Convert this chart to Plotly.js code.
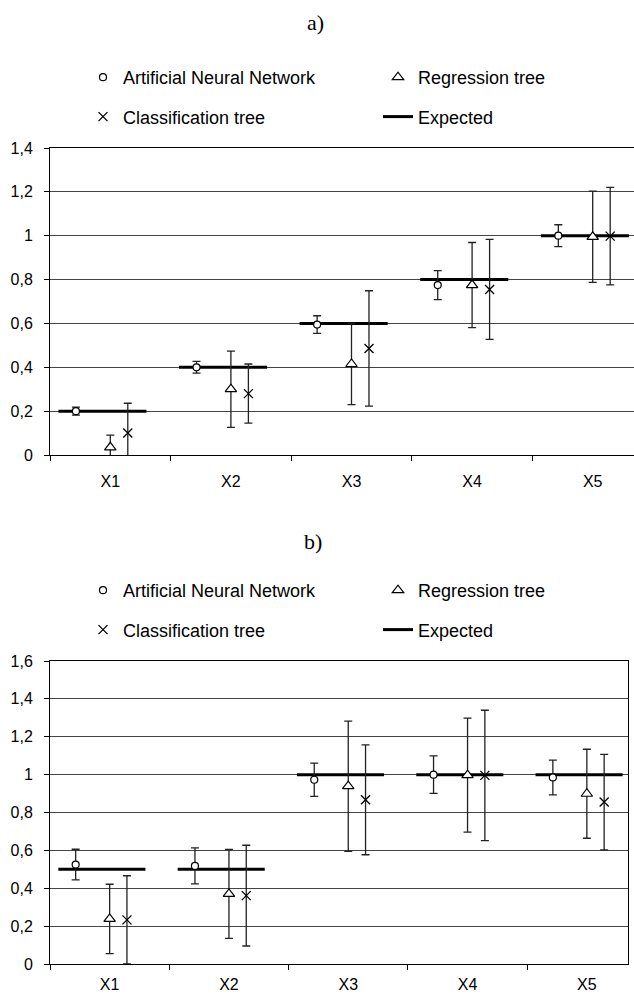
<!DOCTYPE html>
<html>
<head>
<meta charset="utf-8">
<script src="https://cdn.plot.ly/plotly-3.0.1.min.js"></script>
<style>html,body{margin:0;padding:0;background:#fff;}#chart{width:634px;height:996px;}</style>
</head>
<body>
<div id="chart"></div>
<script>
// ---- data ----
const categories = ['X1', 'X2', 'X3', 'X4', 'X5'];
const seriesNames = ['Artificial Neural Network', 'Regression tree', 'Classification tree', 'Expected'];

// panel a)
const expectedA = [0.2, 0.4, 0.6, 0.8, 1.0];
const annA = [0.20, 0.40, 0.595, 0.775, 1.0];
const annErrA = [0.018, 0.027, 0.04, 0.066, 0.05];
const rtA = [0.035, 0.30, 0.415, 0.775, 0.995];
const rtErrA = [0.056, 0.174, 0.185, 0.194, 0.208];
const ctA = [0.10, 0.28, 0.486, 0.755, 0.998];
const ctErrA = [0.136, 0.135, 0.263, 0.228, 0.222];

// panel b)
const expectedB = [0.5, 0.5, 1.0, 1.0, 1.0];
const annB = [0.525, 0.518, 0.973, 1.0, 0.985];
const annErrB = [0.081, 0.095, 0.088, 0.099, 0.092];
const rtB = [0.238, 0.37, 0.939, 0.997, 0.899];
const rtErrB = [0.183, 0.235, 0.344, 0.301, 0.235];
const ctB = [0.233, 0.361, 0.867, 0.996, 0.855];
const ctErrB = [0.233, 0.266, 0.29, 0.344, 0.252];

// ---- styling / layout helpers ----
const pos = categories.map((c, i) => i + 1);
const OFF = {ann: -0.285, rt: 0, ct: 0.145, lineFrom: -0.43, lineTo: 0.30};
const FONT = 'Arial, "Liberation Sans", sans-serif';
const ERRC = '#222';

function errStyle(arr) {
  return {type: 'data', array: arr, visible: true, color: ERRC, thickness: 1.3, width: 4};
}
function expectedLine(vals) {
  const x = [], y = [];
  vals.forEach((v, i) => { x.push(pos[i] + OFF.lineFrom, pos[i] + OFF.lineTo, null); y.push(v, v, null); });
  return {x, y};
}

function panelTraces(xa, ya, exp, ann, annErr, rt, rtErr, ct, ctErr, legCol1, legCol2, gpre) {
  const e = expectedLine(exp);
  return [
    {type: 'scatter', mode: 'lines', name: seriesNames[3], x: e.x, y: e.y, xaxis: xa, yaxis: ya,
     line: {color: '#000', width: 3}, legend: legCol2, legendgroup: gpre + 'e', legendrank: 2, hoverinfo: 'skip'},
    {type: 'scatter', mode: 'markers', name: seriesNames[0], x: pos.map(p => p + OFF.ann), y: ann, xaxis: xa, yaxis: ya,
     error_y: errStyle(annErr), marker: {symbol: 'circle', size: 7, color: '#fff', line: {color: '#000', width: 1.2}},
     legend: legCol1, legendgroup: gpre + 'a', legendrank: 1},
    {type: 'scatter', mode: 'markers', name: seriesNames[1], x: pos.map(p => p + OFF.rt), y: rt, xaxis: xa, yaxis: ya,
     error_y: errStyle(rtErr), marker: {symbol: 'triangle-up', size: 10, color: '#fff', line: {color: '#000', width: 1.2}},
     legend: legCol2, legendgroup: gpre + 'r', legendrank: 1},
    {type: 'scatter', mode: 'markers', name: seriesNames[2], x: pos.map(p => p + OFF.ct), y: ct, xaxis: xa, yaxis: ya,
     error_y: errStyle(ctErr), marker: {symbol: 'x-thin-open', size: 9, color: '#000', line: {color: '#000', width: 1.3}},
     legend: legCol1, legendgroup: gpre + 'c', legendrank: 2, cliponaxis: false}
  ];
}

const data = [].concat(
  panelTraces('x', 'y', expectedA, annA, annErrA, rtA, rtErrA, ctA, ctErrA, 'legend', 'legend2', 'A'),
  panelTraces('x2', 'y2', expectedB, annB, annErrB, rtB, rtErrB, ctB, ctErrB, 'legend3', 'legend4', 'B')
);

const H = 996, W = 634, L = 50, PW = W - L;
function xAxis(domainEnd, rangeEnd, mirror, standoff) {
  return {
    domain: [0, domainEnd], range: [0.5, rangeEnd], showgrid: false, zeroline: false,
    showline: true, linecolor: '#000', linewidth: 1, mirror: mirror,
    tickmode: 'array', tickvals: pos, ticktext: categories, ticks: '',
    ticklabelstandoff: standoff,
    minor: {tickmode: 'array', tickvals: [0.5, 1.5, 2.5, 3.5, 4.5], ticks: 'outside', ticklen: 5, tickcolor: '#000', tickwidth: 1, showgrid: false},
    tickfont: {family: FONT, size: 16, color: '#000'}, fixedrange: true
  };
}
function yAxis(anchor, topPx, botPx, maxV, mirror) {
  return {
    anchor: anchor, domain: [(H - botPx) / H, (H - topPx) / H], range: [0, maxV],
    tickmode: 'linear', tick0: 0, dtick: 0.2, ticks: 'outside', ticklen: 5, tickcolor: '#000',
    showgrid: true, gridcolor: '#444', gridwidth: 1, zeroline: false,
    showline: true, linecolor: '#000', linewidth: 1, mirror: mirror,
    ticklabelstandoff: 8,
    tickfont: {family: FONT, size: 16, color: '#000'}, fixedrange: true
  };
}
function legendAt(leftPx, topPx) {
  return {xref: 'paper', yref: 'paper', x: (leftPx - L) / PW, y: 1 - topPx / H, xanchor: 'left', yanchor: 'top',
    orientation: 'v', bgcolor: 'rgba(0,0,0,0)', borderwidth: 0, tracegroupgap: 13,
    font: {family: FONT, size: 18, color: '#000'}};
}

const layout = {
  width: W, height: H, margin: {l: L, r: 0, t: 0, b: 0, autoexpand: false},
  paper_bgcolor: '#fff', plot_bgcolor: '#fff', separators: ', ',
  showlegend: true,
  xaxis: Object.assign(xAxis(1, 0.5 + 584 / 120.6, true, 12), {anchor: 'y'}),
  yaxis: yAxis('x', 148, 455, 1.4, false),
  xaxis2: Object.assign(xAxis(578 / 584, 0.5 + 578 / 119.3, true, 6), {anchor: 'y2'}),
  yaxis2: yAxis('x2', 661, 964, 1.6, true),
  legend: legendAt(83, 59),
  legend2: legendAt(378, 59),
  legend3: legendAt(83, 572),
  legend4: legendAt(378, 572),
  annotations: [
    {text: 'a)', xref: 'paper', yref: 'paper', x: (315 - L) / PW, y: 1 - 23 / H, xanchor: 'center', yanchor: 'middle',
     showarrow: false, font: {family: '"Liberation Serif", "Times New Roman", serif', size: 22, color: '#000'}},
    {text: 'b)', xref: 'paper', yref: 'paper', x: (313 - L) / PW, y: 1 - 541 / H, xanchor: 'center', yanchor: 'middle',
     showarrow: false, font: {family: '"Liberation Serif", "Times New Roman", serif', size: 22, color: '#000'}}
  ]
};

Plotly.newPlot('chart', data, layout, {displayModeBar: false, staticPlot: true});
</script>
</body>
</html>
